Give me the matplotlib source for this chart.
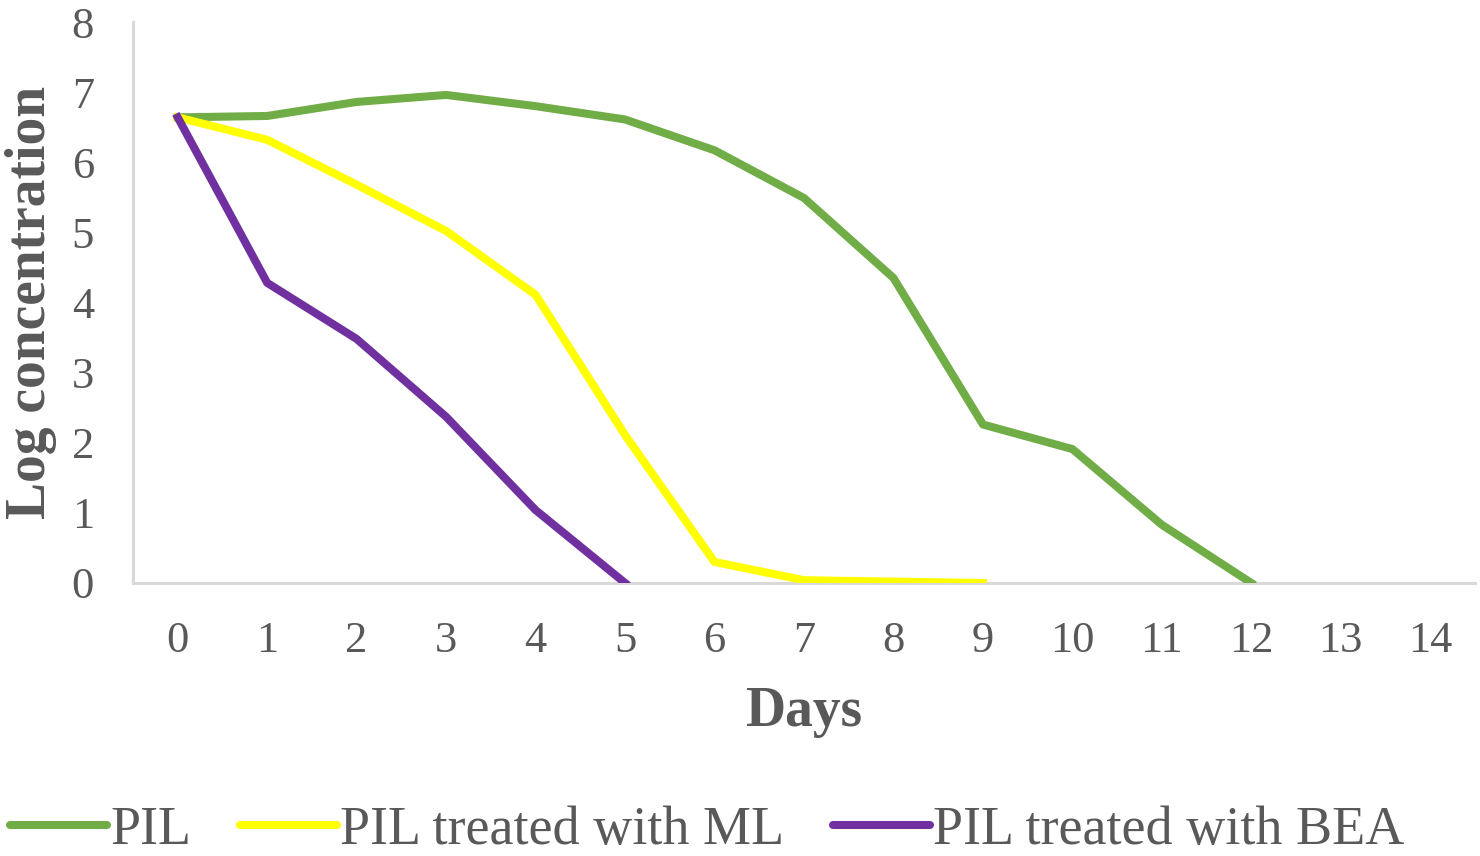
import numpy as np
import matplotlib
matplotlib.use("Agg")
import matplotlib.pyplot as plt

matplotlib.rcParams['font.family'] = ['Liberation Serif', 'DejaVu Serif']

# ---- data ----
days = list(range(15))
day_labels = [str(d) for d in days]
nan = np.nan
pil = [6.64, 6.66, 6.86, 6.96, 6.80, 6.61, 6.17, 5.49, 4.35, 2.26, 1.91, 0.83, 0.0, nan, nan]
pil_ml = [6.64, 6.32, 5.68, 5.02, 4.11, 2.11, 0.30, 0.04, 0.02, 0.0, nan, nan, nan, nan, nan]
pil_bea = [6.64, 4.28, 3.48, 2.37, 1.04, 0.0, nan, nan, nan, nan, nan, nan, nan, nan, nan]

grey = '#595959'
axis_grey = '#d9d9d9'

fig = plt.figure(figsize=(14.8, 8.56), dpi=100)
ax = fig.add_axes([133/1480, 1-583/856, (1475-133)/1480, (583-22)/856])

lw = 5.8
ax.plot(days, pil, color='#70AD47', lw=lw, label='PIL', solid_joinstyle='round')
ax.plot(days, pil_ml, color='#FFFF00', lw=lw, label='PIL treated with ML', solid_joinstyle='round')
ax.plot(days, pil_bea, color='#7030A0', lw=lw, label='PIL treated with BEA', solid_joinstyle='round')

ax.set_xlim(-0.5, 14.5)
ax.set_ylim(0, 8)
ax.set_xticks(days)
ax.set_xticklabels(day_labels)
ax.set_yticks(range(9))

for s in ['top', 'right']:
    ax.spines[s].set_visible(False)
for s in ['left', 'bottom']:
    ax.spines[s].set_color(axis_grey)
    ax.spines[s].set_linewidth(2.2)
ax.spines['bottom'].set_zorder(0.5)

ax.tick_params(axis='both', length=0, labelsize=32, labelcolor=grey)
ax.tick_params(axis='x', pad=27)
ax.tick_params(axis='y', pad=28)

ax.set_xlabel('Days', fontsize=40, fontweight='bold', color=grey)
ax.xaxis.set_label_coords(0.5, -0.183)
ax.set_ylabel('Log concentration', fontsize=40, fontweight='bold', color=grey, va='center')
ax.yaxis.set_label_coords(-0.076, 0.5)

leg = fig.legend(loc='center', bbox_to_anchor=(707/1480, 1-831/856), ncol=3, frameon=False,
                 fontsize=39, handlelength=1.8, handletextpad=0.05, columnspacing=0.9,
                 borderaxespad=0)
for t in leg.get_texts():
    t.set_color(grey)
for h in leg.get_lines():
    h.set_solid_capstyle('round')

fig.savefig('out.png', dpi=100)
